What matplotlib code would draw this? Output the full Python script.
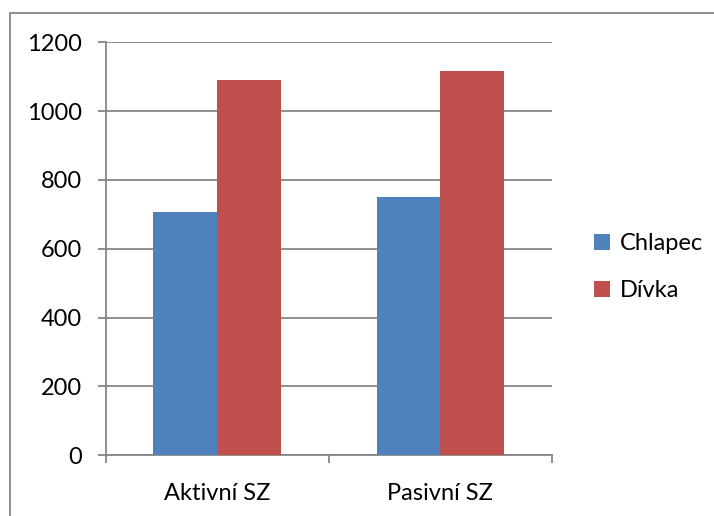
import matplotlib.pyplot as plt
from matplotlib.patches import Rectangle
import numpy as np

plt.rcParams['font.family'] = ['Lato', 'DejaVu Sans']

# data
categories = ['Aktivní SZ', 'Pasivní SZ']
series_names = ['Chlapec', 'Dívka']
chlapec = [707, 750]
divka = [1091, 1116]
colors = ['#4F81BD', '#C0504D']
grid_col = '#868686'

fig = plt.figure(figsize=(7.14, 5.16), dpi=100)
ax = fig.add_axes([0.148, 0.118, 0.625, 0.800])

x = np.arange(len(categories))
w = 0.2857
ax.bar(x - w / 2, chlapec, w, color=colors[0], label=series_names[0], zorder=3)
ax.bar(x + w / 2, divka, w, color=colors[1], label=series_names[1], zorder=3)

ax.set_xlim(-0.5, len(categories) - 0.5)
ax.set_ylim(0, 1200)
ax.set_yticks(range(0, 1201, 200))
ax.yaxis.grid(True, color=grid_col, linewidth=1.3, zorder=0)

ax.set_xticks(x)
ax.set_xticklabels(categories)
ax.set_xticks(np.arange(-0.5, len(categories), 1), minor=True)
ax.tick_params(axis='x', which='major', length=0, pad=20, labelsize=17)
ax.tick_params(axis='x', which='minor', length=6, width=1.3, color=grid_col, direction='out')
ax.tick_params(axis='y', length=6, width=1.3, color=grid_col, pad=11, labelsize=17)

for s in ['top', 'right']:
    ax.spines[s].set_visible(False)
for s in ['left', 'bottom']:
    ax.spines[s].set_color(grid_col)
    ax.spines[s].set_linewidth(1.3)

leg = fig.legend(loc='center left', bbox_to_anchor=(0.802, 0.482), frameon=False,
                 fontsize=17, handlelength=0.7, handleheight=0.7, handletextpad=0.4,
                 labelspacing=1.1)

# chart border (only top and left fall inside the image)
fig.patches.append(Rectangle((10 / 714, -0.1), 1.2, (516 - 13) / 516 + 0.1,
                             transform=fig.transFigure, fill=False,
                             edgecolor=grid_col, linewidth=1.3))

fig.savefig('out.png', dpi=100)
